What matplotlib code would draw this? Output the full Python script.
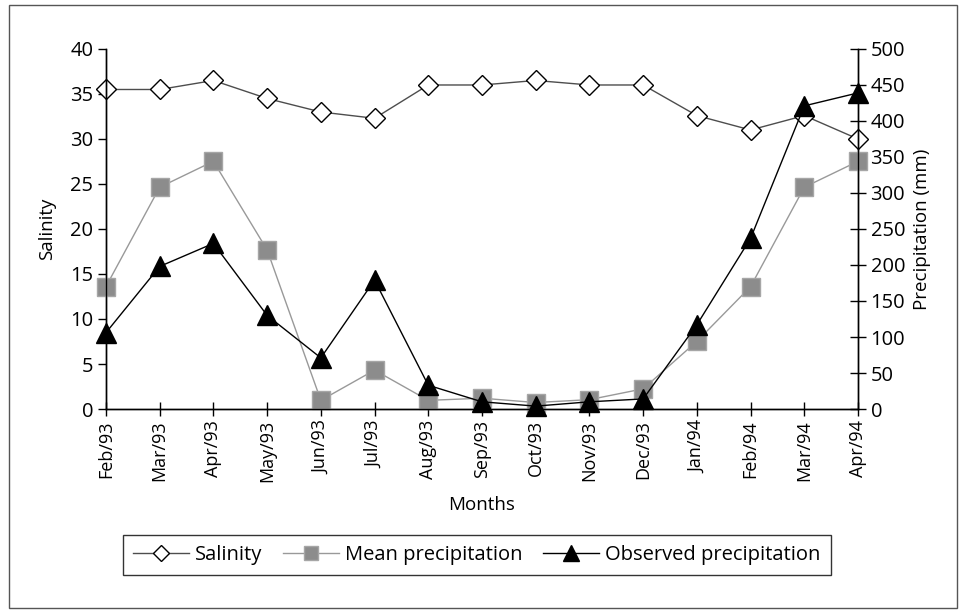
import matplotlib
import matplotlib.pyplot as plt
from matplotlib.patches import Rectangle
matplotlib.use('Agg')

plt.rcParams['font.family'] = ['Open Sans', 'DejaVu Sans']

# data
months = ['Feb/93', 'Mar/93', 'Apr/93', 'May/93', 'Jun/93', 'Jul/93', 'Aug/93',
          'Sep/93', 'Oct/93', 'Nov/93', 'Dec/93', 'Jan/94', 'Feb/94', 'Mar/94',
          'Apr/94']
salinity = [35.5, 35.5, 36.5, 34.5, 33.0, 32.3, 36.0, 36.0, 36.5, 36.0, 36.0,
            32.6, 31.0, 32.6, 30.0]
mean_precip = [170, 308, 344, 221, 12, 54, 12, 15, 9, 13, 28, 94, 170, 308, 344]
observed_precip = [106, 198, 230, 130, 71, 179, 33, 10, 4, 10, 14, 117, 237,
                   421, 439]

salinity_ticks = [0, 5, 10, 15, 20, 25, 30, 35, 40]
precip_ticks = [0, 50, 100, 150, 200, 250, 300, 350, 400, 450, 500]

fig = plt.figure(figsize=(9.59, 6.10), dpi=100)
ax = fig.add_axes([0.1105, 0.3295, 0.7842, 0.5902])
ax2 = ax.twinx()

x = list(range(len(months)))

# Salinity on the left axis
ax.plot(x, salinity, color='#4d4d4d', linewidth=1, marker='D', markersize=10,
        markerfacecolor='white', markeredgecolor='black', markeredgewidth=1,
        clip_on=False, label='Salinity')

# precipitation on the right axis
ax2.plot(x, mean_precip, color='#999999', linewidth=1, marker='s',
         markersize=13, markerfacecolor='#8c8c8c', markeredgecolor='#a6a6a6',
         markeredgewidth=1, clip_on=False, label='Mean precipitation')
ax2.plot(x, observed_precip, color='black', linewidth=1, marker='^',
         markersize=15, markerfacecolor='black', markeredgecolor='black',
         clip_on=False, label='Observed precipitation')

ax.set_xlim(0, len(months) - 1)
ax.set_ylim(0, 40)
ax2.set_ylim(0, 500)
ax.set_xticks(x)
ax.set_xticklabels(months, rotation=90, fontsize=13)
ax.set_yticks(salinity_ticks)
ax2.set_yticks(precip_ticks)

for a in (ax, ax2):
    a.spines['top'].set_visible(False)
    for s in a.spines.values():
        s.set_linewidth(1)

ax.tick_params(axis='y', direction='out', length=6, width=1, labelsize=14.5,
               pad=3)
ax.tick_params(axis='x', direction='inout', length=10, width=1, pad=3)
ax2.tick_params(axis='y', direction='inout', length=12, width=1,
                labelsize=14.5, pad=3)

ax.set_ylabel('Salinity', fontsize=13.5, labelpad=10)
ax2.set_ylabel('Precipitation (mm)', fontsize=13.5, labelpad=6)
ax.set_xlabel('Months', fontsize=13.5, labelpad=10)

# Legend
h1, l1 = ax.get_legend_handles_labels()
h2, l2 = ax2.get_legend_handles_labels()
leg = fig.legend(h1 + h2, l1 + l2, loc='center',
                 bbox_to_anchor=(0.497, 0.09), ncol=3, fontsize=14.5,
                 frameon=True, fancybox=False, edgecolor='black',
                 handlelength=2.8, columnspacing=1.0, handletextpad=0.3,
                 borderpad=0.5, markerscale=0.8)
leg.get_frame().set_linewidth(1)

# outer border
fig.patches.append(Rectangle((0.0094, 0.003), 0.989, 0.989,
                             transform=fig.transFigure, fill=False,
                             edgecolor='#555555', linewidth=1))

plt.savefig('out.png', dpi=100)
